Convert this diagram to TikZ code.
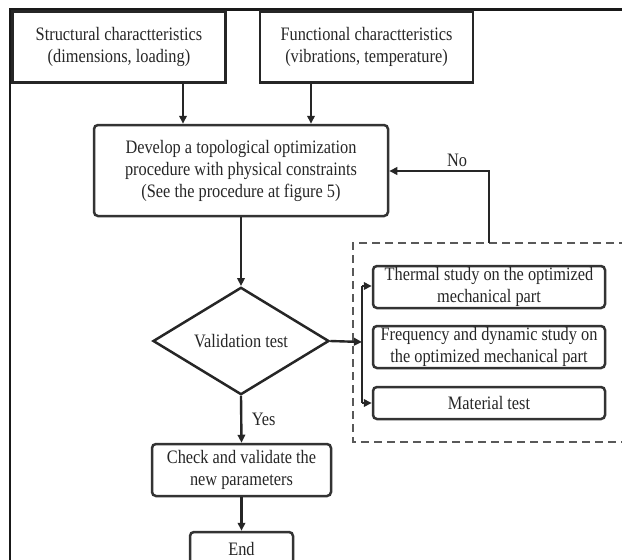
\documentclass[tikz,border=0pt]{standalone}
\usepackage{fontspec}
\setmainfont{Liberation Serif}[FakeStretch=0.86]
\usetikzlibrary{shapes.geometric,arrows.meta}
\begin{document}
\begin{tikzpicture}[x=1pt,y=-1pt,
  every node/.style={font=\fontsize{19}{22}\selectfont, align=center, text=black!85},
  sqbox/.style={draw=black!85, line width=2.5pt, minimum width=213pt, minimum height=71pt, inner sep=0pt},
  rbox/.style={draw=black!80, line width=2.5pt, rounded corners=4pt, inner sep=0pt},
  decision/.style={draw=black!85, diamond, line width=2.5pt, inner sep=0pt,
    minimum width=176pt, minimum height=92pt},
  flow/.style={line width=2.4pt, draw=black!85, -{Triangle[length=8pt,width=7.5pt]}},
  link/.style={line width=2.4pt, draw=black!85},
  group/.style={draw=black!65, line width=1.4pt, dash pattern=on 8pt off 5pt},
  frame/.style={draw=black!90, line width=2.2pt}
]
\useasboundingbox (0,0) rectangle (622,560);
\clip (0,0) rectangle (622,560);

% outer frame
\draw[frame] (10,580) -- (10,9.5) -- (640,9.5);

% inputs
\node[sqbox] (struct) at (119,47) {Structural charactteristics\\(dimensions, loading)};
\node[sqbox] (funct)  at (366.5,47) {Functional charactteristics\\(vibrations, temperature)};

% optimisation step
\node[rbox, minimum width=294pt, minimum height=91pt] (dev) at (241,170.5)
  {Develop a topological optimization\\procedure with physical constraints\\(See the procedure at figure 5)};

% decision
\node[decision] (valid) at (241,341) {Validation test};

% studies group
\draw[group] (640,243) -- (353,243) -- (353,442) -- (640,442);
\node[rbox, minimum width=232pt, minimum height=42pt] (thermal) at (489,287)
  {Thermal study on the optimized\\mechanical part};
\node[rbox, minimum width=232pt, minimum height=42pt] (freq) at (489,347)
  {Frequency and dynamic study on\\the optimized mechanical part};
\node[rbox, minimum width=232pt, minimum height=32pt] (mat) at (489,403)
  {Material test};

% result
\node[rbox, minimum width=179pt, minimum height=52pt] (check) at (241.5,470)
  {Check and validate the\\new parameters};
\node[rbox, minimum width=103pt, minimum height=34pt] (end) at (241.5,549) {End};

% helper points
\coordinate (split) at (362,342);
\coordinate (splitTop) at (362,286);
\coordinate (splitBot) at (362,403);
\coordinate (loopLow) at (489,243);
\coordinate (loopHigh) at (489,171);

% connectors
\draw[flow] (struct.south -| 183,0) -- (dev.north -| 183,0);
\draw[flow] (funct.south -| 311,0) -- (dev.north -| 311,0);
\draw[flow] (dev.south) -- (valid.north);
\draw[flow] (valid.east) -- (split);
\draw[link] (splitTop) -- (splitBot);
\draw[flow] (splitTop) -- (thermal.west |- splitTop);
\draw[flow] (splitBot) -- (mat.west);
\draw[flow] (loopLow) -- (loopHigh) -- (dev.east |- loopHigh);
\node at (457,160) {No};
\draw[flow] (valid.south) -- (check.north) node[pos=0.5, right=6pt] {Yes};
\draw[flow] (check.south) -- (end.north);
\end{tikzpicture}
\end{document}
